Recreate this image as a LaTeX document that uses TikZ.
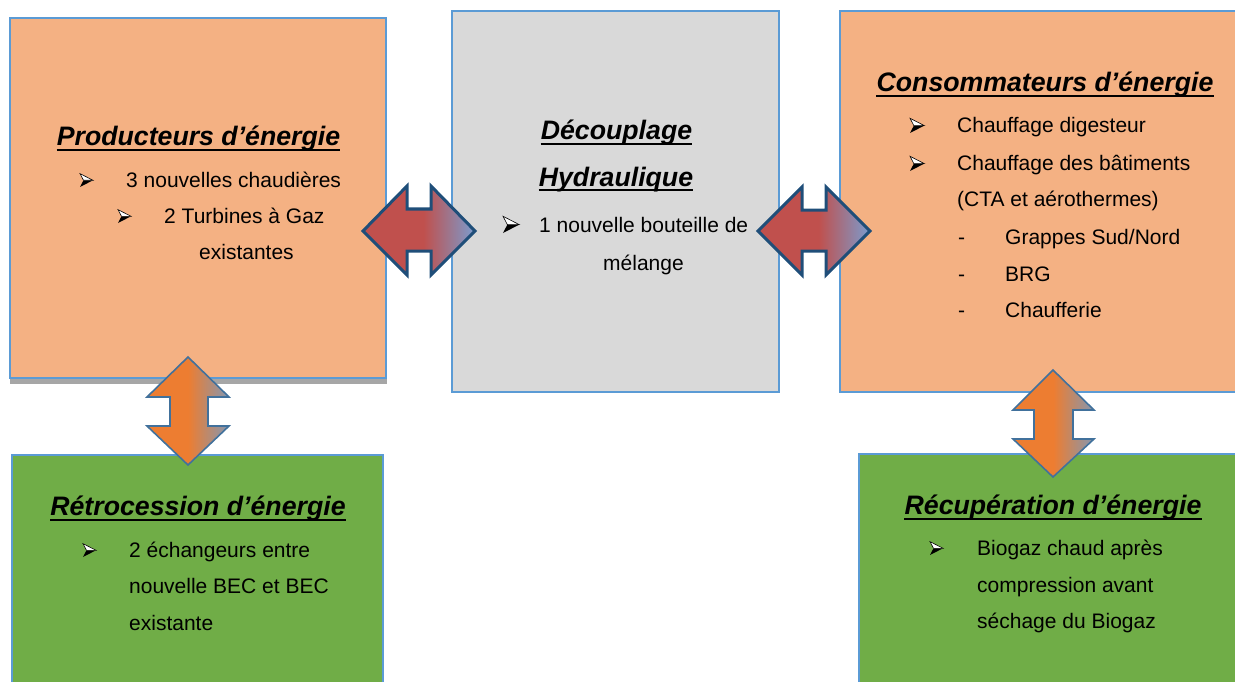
\documentclass[tikz,border=0pt]{standalone}
\usepackage{fontspec}
\setmainfont{Liberation Sans}
\definecolor{orfill}{HTML}{F4B183}
\definecolor{grfill}{HTML}{D9D9D9}
\definecolor{gnfill}{HTML}{70AD47}
\definecolor{bxline}{HTML}{5B9BD5}
\definecolor{shadowgrey}{HTML}{A6A6A6}
\definecolor{arrred}{HTML}{C0504D}
\definecolor{arrblue}{HTML}{7A9CCF}
\definecolor{arrline}{HTML}{1F4E79}
\definecolor{arrorange}{HTML}{ED7D31}
\definecolor{arrgrey}{HTML}{8597B0}
\definecolor{arrlinetwo}{HTML}{41719C}
\pgfdeclarehorizontalshading{redblue}{100bp}{color(0bp)=(arrred); color(25bp)=(arrred); color(52bp)=(arrred); color(75bp)=(arrblue); color(100bp)=(arrblue)}
\pgfdeclarehorizontalshading{orangegrey}{100bp}{color(0bp)=(arrorange); color(25bp)=(arrorange); color(50bp)=(arrorange); color(75bp)=(arrgrey); color(100bp)=(arrgrey)}
\tikzset{
  boxbase/.style={rectangle, draw=bxline, line width=1.5pt, inner sep=0pt},
  orbox/.style={boxbase, fill=orfill},
  grbox/.style={boxbase, fill=grfill},
  gnbox/.style={boxbase, fill=gnfill, line width=2pt},
  harrow/.style={shade, shading=redblue, draw=arrline, line width=3pt, line join=miter},
  varrow/.style={shade, shading=orangegrey, draw=arrlinetwo, line width=1.6pt, line join=miter},
  txt/.style={anchor=base west, inner sep=0pt, font=\fontsize{21}{25}\selectfont},
  ttl/.style={anchor=base, inner sep=0pt, font=\fontsize{26.7}{30}\selectfont\bfseries\itshape},
  uline/.style={line width=2pt, black},
  bul/.pic={
    \fill[black] (3.5,-6.7) -- (13,-6.7) -- (0,0) -- cycle;
    \filldraw[fill=white, draw=black, line width=0.6pt] (0,-13.4) -- (13,-6.7) -- (3.5,-6.7) -- cycle;
  }
}
\begin{document}
\begin{tikzpicture}[x=1pt,y=-1pt]
\useasboundingbox (0,0) rectangle (1235,682);
\clip (0,0) rectangle (1235,682);
% boxes
\fill[shadowgrey] (10,24) rectangle (387,384);
\node[orbox, minimum width=376pt, minimum height=360pt] (prod) at (198,198) {};
\node[grbox, minimum width=327pt, minimum height=381pt] (decoup) at (615.5,201.5) {};
\node[orbox, minimum width=400pt, minimum height=381pt] (conso) at (1040,201.5) {};
\node[gnbox, minimum width=371pt, minimum height=240pt] (retro) at (197.5,575) {};
\node[gnbox, minimum width=381pt, minimum height=240pt] (recup) at (1049.5,574) {};
% arrows
\path[harrow] (363,231) -- (407,186) -- (407,209) -- (431,209) -- (431,186) -- (475,231) -- (431,275) -- (431,251) -- (407,251) -- (407,275) -- cycle;
\path[harrow] (758,231) -- (802,187) -- (802,210) -- (826,210) -- (826,187) -- (870,231) -- (826,275) -- (826,251) -- (802,251) -- (802,275) -- cycle;
\path[varrow] (188,357) -- (229,397) -- (208,397) -- (208,426) -- (229,426) -- (188,465) -- (147,426) -- (170,426) -- (170,397) -- (147,397) -- cycle;
\path[varrow] (1053,370) -- (1094,410) -- (1073,410) -- (1073,439) -- (1094,439) -- (1053,477) -- (1013,439) -- (1034,439) -- (1034,410) -- (1013,410) -- cycle;
% Producteurs
\node[ttl] (t1) at (198.5,146) {Producteurs d’énergie};
\draw[uline] ([yshift=-4.5pt]t1.base west) -- ([yshift=-4.5pt]t1.base east);
\pic at (80,187) {bul};
\node[txt] (p1) at (126,187) {3 nouvelles chaudières};
\pic at (118,223) {bul};
\node[txt] (p2) at (164,223) {2 Turbines à Gaz};
\node[txt] (p3) at (199,259) {existantes};
% Decouplage
\node[ttl] (t2a) at (616.5,140) {Découplage};
\draw[uline] ([yshift=-4.5pt]t2a.base west) -- ([yshift=-4.5pt]t2a.base east);
\node[ttl] (t2b) at (616,186) {Hydraulique};
\draw[uline] ([yshift=-4.5pt]t2b.base west) -- ([yshift=-4.5pt]t2b.base east);
\pic[scale=1.25] at (503,233) {bul};
\node[txt] (d1) at (539,233) {1 nouvelle bouteille de};
\node[txt] (d2) at (603,270) {mélange};
% Consommateurs
\node[ttl] (t3) at (1045,92) {Consommateurs d’énergie};
\draw[uline] ([yshift=-4.5pt]t3.base west) -- ([yshift=-4.5pt]t3.base east);
\pic[scale=1.1] at (910,133) {bul};
\node[txt] (c1) at (957,133) {Chauffage digesteur};
\pic[scale=1.1] at (910,171) {bul};
\node[txt] (c2) at (957,171) {Chauffage des bâtiments};
\node[txt] (c3) at (957,207) {(CTA et aérothermes)};
\node[txt] (c4d) at (958,244) {-};
\node[txt] (c4) at (1005,244) {Grappes Sud/Nord};
\node[txt] (c5d) at (958,281) {-};
\node[txt] (c5) at (1005,281) {BRG};
\node[txt] (c6d) at (958,317) {-};
\node[txt] (c6) at (1005,317) {Chaufferie};
% Retrocession
\node[ttl] (t4) at (198,515) {Rétrocession d’énergie};
\draw[uline] ([yshift=-4.5pt]t4.base west) -- ([yshift=-4.5pt]t4.base east);
\pic at (83,557) {bul};
\node[txt] (r1) at (129,557) {2 échangeurs entre};
\node[txt] (r2) at (129,593) {nouvelle BEC et BEC};
\node[txt] (r3) at (129,630) {existante};
% Recuperation
\node[ttl] (t5) at (1053,514) {Récupération d’énergie};
\draw[uline] ([yshift=-4.5pt]t5.base west) -- ([yshift=-4.5pt]t5.base east);
\pic at (930,555) {bul};
\node[txt] (e1) at (977,555) {Biogaz chaud après};
\node[txt] (e2) at (977,592) {compression avant};
\node[txt] (e3) at (977,628) {séchage du Biogaz};
\end{tikzpicture}
\end{document}
